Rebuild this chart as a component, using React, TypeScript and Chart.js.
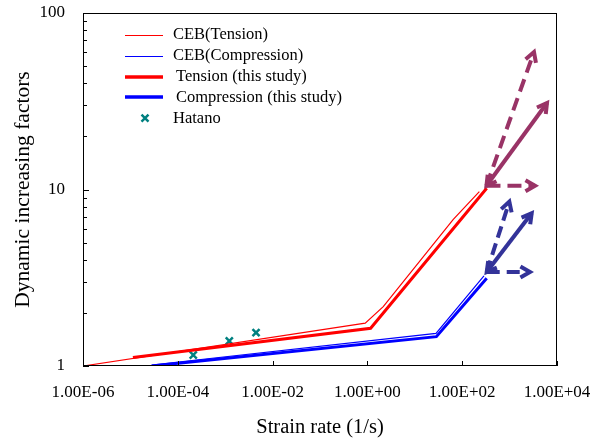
import React, { useEffect, useRef } from "react";
import { Chart, registerables } from "chart.js";

Chart.register(...registerables);

// ---- Data ----
const xTickValues = [1e-6, 1e-4, 1e-2, 1e0, 1e2, 1e4];
const xTickLabels = ["1.00E-06", "1.00E-04", "1.00E-02", "1.00E+00", "1.00E+02", "1.00E+04"];
const yTickValues = [1, 10, 100];
const yTickLabels = ["1", "10", "100"];
const yMinorTicks = [2, 3, 4, 5, 6, 7, 8, 9, 20, 30, 40, 50, 60, 70, 80, 90];

const cebTensionX = [1e-6, 0.9, 2.16, 64.9, 230];
const cebTensionY = [1.0, 1.75, 2.17, 6.78, 9.72];
const cebCompressionX = [2.81e-5, 28.0, 288];
const cebCompressionY = [1.013, 1.53, 3.24];
const tensionStudyX = [1.13e-5, 1.17, 329];
const tensionStudyY = [1.117, 1.636, 10.16];
const compressionStudyX = [2.81e-5, 28.5, 329];
const compressionStudyY = [1.0, 1.466, 3.14];
const hatanoX = [2.12e-4, 1.22e-3, 4.47e-3];
const hatanoY = [1.154, 1.386, 1.544];

// arrows: origin + ends (solid, dashed up, dashed horizontal)
const tensionArrowOriginX = 325;
const tensionArrowOriginY = 10.5;
const tensionArrowEndsX = [6150, 3270, 3440];
const tensionArrowEndsY = [30.9, 60.1, 10.5];
const compressionArrowOriginX = 329;
const compressionArrowOriginY = 3.41;
const compressionArrowEndsX = [2925, 986, 2690];
const compressionArrowEndsY = [7.33, 8.53, 3.41];

const legendLabels = [
  "CEB(Tension)",
  "CEB(Compression)",
  "Tension (this study)",
  "Compression (this study)",
  "Hatano",
];

const RED = "#ff0000";
const BLUE = "#0000ff";
const TEAL = "#008080";
const PURPLE = "#993366";
const NAVY = "#333399";
const FONT = "'Liberation Serif', 'Times New Roman', serif";

const pts = (xs: number[], ys: number[]) => xs.map((x, i) => ({ x, y: ys[i] }));

const arrowPlugin = {
  id: "arrowHeads",
  afterDatasetsDraw(chart: any) {
    const ctx = chart.ctx;
    chart.data.datasets.forEach((ds: any, i: number) => {
      if (!ds.arrow) return;
      const meta = chart.getDatasetMeta(i);
      const p = meta.data;
      const a = p[0];
      const b = p[p.length - 1];
      const head = (from: any, to: any) => {
        const ang = Math.atan2(to.y - from.y, to.x - from.x);
        const L = 11;
        const phi = 0.52;
        ctx.save();
        ctx.setLineDash([]);
        ctx.strokeStyle = ds.borderColor;
        ctx.lineWidth = 4;
        ctx.lineJoin = "miter";
        ctx.lineCap = "butt";
        ctx.beginPath();
        ctx.moveTo(to.x - L * Math.cos(ang - phi), to.y - L * Math.sin(ang - phi));
        ctx.lineTo(to.x, to.y);
        ctx.lineTo(to.x - L * Math.cos(ang + phi), to.y - L * Math.sin(ang + phi));
        ctx.stroke();
        ctx.restore();
      };
      head(a, b);
      if (ds.arrow === "both") head(b, a);
    });
  },
};

const framePlugin = {
  id: "frameLegend",
  afterDraw(chart: any) {
    const ctx = chart.ctx;
    const { left, right, top, bottom } = chart.chartArea;
    const xs = chart.scales.x;
    const ys = chart.scales.y;
    ctx.save();
    ctx.strokeStyle = "#000";
    ctx.lineWidth = 1;
    ctx.strokeRect(left + 0.5, top + 0.5, right - left - 1, bottom - top - 1);
    ctx.beginPath();
    xTickValues.forEach((v) => {
      const px = Math.round(xs.getPixelForValue(v)) + 0.5;
      ctx.moveTo(px, bottom);
      ctx.lineTo(px, bottom - 5);
    });
    yMinorTicks.forEach((v) => {
      const py = Math.round(ys.getPixelForValue(v)) + 0.5;
      ctx.moveTo(left, py);
      ctx.lineTo(left + 4, py);
    });
    yTickValues.forEach((v) => {
      const py = Math.round(ys.getPixelForValue(v)) + 0.5;
      ctx.moveTo(left, py);
      ctx.lineTo(left + 6, py);
    });
    ctx.stroke();

    // legend
    const styles = [
      { kind: "line", color: RED, width: 1, tx: 90 },
      { kind: "line", color: BLUE, width: 1, tx: 90 },
      { kind: "line", color: RED, width: 3.5, tx: 93 },
      { kind: "line", color: BLUE, width: 3.5, tx: 93 },
      { kind: "marker", color: TEAL, width: 2.5, tx: 90 },
    ];
    ctx.font = `16.5px ${FONT}`;
    ctx.textBaseline = "middle";
    ctx.textAlign = "left";
    legendLabels.forEach((label, i) => {
      const s = styles[i];
      const y = top + 22 + i * 20.8;
      const ly = s.width < 2 ? Math.round(y) + 0.5 : Math.round(y);
      if (s.kind === "line") {
        ctx.strokeStyle = s.color;
        ctx.lineWidth = s.width;
        ctx.beginPath();
        ctx.moveTo(left + 42, ly);
        ctx.lineTo(left + 80, ly);
        ctx.stroke();
      } else {
        const cx = left + 62;
        const r = 3.5;
        ctx.strokeStyle = s.color;
        ctx.lineWidth = s.width;
        ctx.beginPath();
        ctx.moveTo(cx - r, y - r);
        ctx.lineTo(cx + r, y + r);
        ctx.moveTo(cx + r, y - r);
        ctx.lineTo(cx - r, y + r);
        ctx.stroke();
      }
      ctx.fillStyle = "#000";
      ctx.fillText(label, left + s.tx, y);
    });
    ctx.restore();
  },
};

export default function App() {
  const canvasRef = useRef<HTMLCanvasElement | null>(null);

  useEffect(() => {
    document.body.style.margin = "0";
    const canvas = canvasRef.current;
    if (!canvas) return;

    const lineDs = (label: string, xs: number[], ys: number[], color: string, width: number) => ({
      label,
      data: pts(xs, ys),
      showLine: true,
      borderColor: color,
      backgroundColor: color,
      borderWidth: width,
      pointRadius: 0,
      tension: 0,
    });

    const arrowDs = (ox: number, oy: number, ex: number, ey: number, color: string, dash: number[], kind: string) => ({
      label: "arrow",
      data: [
        { x: ox, y: oy },
        { x: ex, y: ey },
      ],
      showLine: true,
      borderColor: color,
      backgroundColor: color,
      borderWidth: 4,
      borderDash: dash,
      borderCapStyle: "butt",
      pointRadius: 0,
      arrow: kind,
    });

    const datasets: any[] = [
      lineDs("Tension (this study)", tensionStudyX, tensionStudyY, RED, 3),
      lineDs("Compression (this study)", compressionStudyX, compressionStudyY, BLUE, 3),
      lineDs("CEB(Tension)", cebTensionX, cebTensionY, RED, 1.2),
      lineDs("CEB(Compression)", cebCompressionX, cebCompressionY, BLUE, 1.2),
      {
        label: "Hatano",
        data: pts(hatanoX, hatanoY),
        showLine: false,
        pointStyle: "crossRot",
        pointRadius: 5,
        borderColor: TEAL,
        backgroundColor: TEAL,
        pointBorderWidth: 2.5,
      },
      arrowDs(tensionArrowOriginX, tensionArrowOriginY, tensionArrowEndsX[0], tensionArrowEndsY[0], PURPLE, [], "both"),
      arrowDs(tensionArrowOriginX, tensionArrowOriginY, tensionArrowEndsX[1], tensionArrowEndsY[1], PURPLE, [13, 7], "end"),
      arrowDs(tensionArrowOriginX, tensionArrowOriginY, tensionArrowEndsX[2], tensionArrowEndsY[2], PURPLE, [14, 7], "end"),
      arrowDs(compressionArrowOriginX, compressionArrowOriginY, compressionArrowEndsX[0], compressionArrowEndsY[0], NAVY, [], "both"),
      arrowDs(compressionArrowOriginX, compressionArrowOriginY, compressionArrowEndsX[1], compressionArrowEndsY[1], NAVY, [12, 6], "end"),
      arrowDs(compressionArrowOriginX, compressionArrowOriginY, compressionArrowEndsX[2], compressionArrowEndsY[2], NAVY, [13, 7], "end"),
    ];

    const chart = new Chart(canvas, {
      type: "scatter",
      data: { datasets },
      options: {
        animation: false,
        responsive: true,
        maintainAspectRatio: false,
        layout: { padding: { left: 0, top: 13, right: 35, bottom: 0 } },
        plugins: {
          legend: { display: false },
          tooltip: { enabled: false },
        },
        scales: {
          x: {
            type: "logarithmic",
            min: 1e-6,
            max: 1e4,
            grid: { display: false, drawTicks: true, tickLength: 16 },
            border: { display: false },
            afterBuildTicks: (scale: any) => {
              scale.ticks = xTickValues.map((v) => ({ value: v }));
            },
            afterFit: (scale: any) => {
              scale.height = 75;
            },
            ticks: {
              autoSkip: false,
              maxRotation: 0,
              padding: 0,
              color: "#000",
              font: { family: FONT, size: 17 },
              callback: (_v: any, i: number) => xTickLabels[i],
            },
            title: {
              display: true,
              text: "Strain rate (1/s)",
              color: "#000",
              font: { family: FONT, size: 20.5 },
              padding: { top: 0, bottom: 1 },
            },
          },
          y: {
            type: "logarithmic",
            min: 1,
            max: 100,
            grid: { display: false, drawTicks: true, tickLength: 18 },
            border: { display: false },
            afterBuildTicks: (scale: any) => {
              scale.ticks = yTickValues.map((v) => ({ value: v }));
            },
            afterFit: (scale: any) => {
              scale.width = 83;
            },
            ticks: {
              autoSkip: false,
              padding: 0,
              color: "#000",
              font: { family: FONT, size: 17 },
              callback: (_v: any, i: number) => yTickLabels[i],
            },
            title: {
              display: true,
              text: "Dynamic increasing factors",
              color: "#000",
              font: { family: FONT, size: 21.5 },
              padding: { top: 10, bottom: 0 },
            },
          },
        },
      } as any,
      plugins: [arrowPlugin, framePlugin],
    });

    return () => chart.destroy();
  }, []);

  return (
    <div style={{ width: 592, height: 441, position: "relative" }}>
      <canvas ref={canvasRef} />
    </div>
  );
}
